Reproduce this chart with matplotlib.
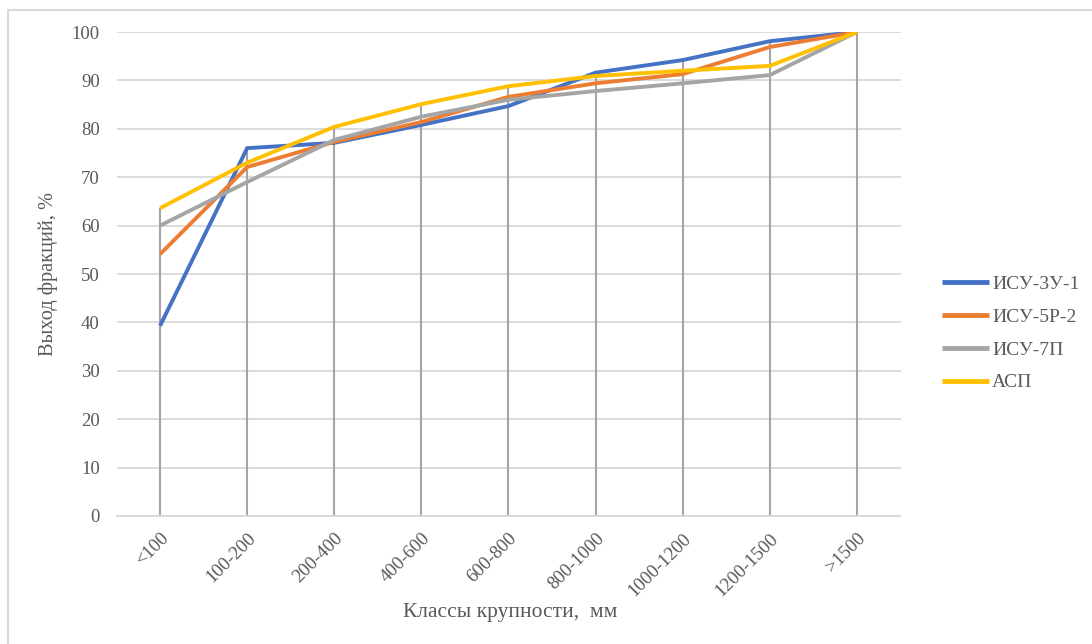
import matplotlib
matplotlib.use("Agg")
import matplotlib.pyplot as plt
from matplotlib.patches import Rectangle
import numpy as np

categories = ["<100", "100-200", "200-400", "400-600", "600-800",
              "800-1000", "1000-1200", "1200-1500", ">1500"]
isu_3u_1 = [39.3, 76.0, 77.1, 80.8, 84.7, 91.6, 94.2, 98.1, 100.0]
isu_5r_2 = [54.1, 72.1, 77.3, 81.4, 86.6, 89.4, 91.3, 96.9, 100.0]
isu_7p = [60.0, 69.0, 77.7, 82.5, 86.0, 87.8, 89.4, 91.1, 100.0]
asp = [63.6, 73.0, 80.4, 85.1, 88.8, 90.9, 92.0, 93.0, 100.0]
series_names = ["ИСУ-3У-1", "ИСУ-5Р-2", "ИСУ-7П", "АСП"]
y_ticks = list(range(0, 101, 10))

colors = ["#4472C4", "#ED7D31", "#A5A5A5", "#FFC000"]
text_color = "#595959"
font = ["Liberation Serif", "DejaVu Serif"]

plt.rcParams["font.family"] = font

W, H = 1092, 644
fig = plt.figure(figsize=(W / 100, H / 100), dpi=100)

# chart frame (open at the right and bottom edges of the image)
fig.patches.append(Rectangle((8 / W, -0.1), 1.2, (H - 10) / H + 0.1,
                             transform=fig.transFigure, fill=False,
                             edgecolor="#D9D9D9", linewidth=1.5, zorder=0))

ax = fig.add_axes([116.5 / W, (H - 516) / H, (900.5 - 116.5) / W, (516 - 32) / H])
x = np.arange(len(categories))
all_series = [isu_3u_1, isu_5r_2, isu_7p, asp]

ax.set_xlim(-0.5, len(categories) - 0.5)
ax.set_ylim(0, 100)
ax.set_yticks(y_ticks)
ax.yaxis.grid(True, color="#D9D9D9", linewidth=1.3)
ax.set_axisbelow(True)

# drop lines from the top value of each class down to the axis
tops = np.max(np.array(all_series), axis=0)
ax.vlines(x, 0, tops, color="#A5A5A5", linewidth=1.5, zorder=2)

for vals, name, c in zip(all_series, series_names, colors):
    ax.plot(x, vals, color=c, linewidth=2.8, label=name, zorder=3,
            solid_capstyle="butt", solid_joinstyle="miter")

for side in ["top", "right", "left"]:
    ax.spines[side].set_visible(False)
ax.spines["bottom"].set_color("#D9D9D9")
ax.spines["bottom"].set_linewidth(1.3)

ax.set_xticks(x)
ax.set_xticklabels(categories, rotation=45, ha="right", rotation_mode="anchor",
                   fontsize=13.5, color=text_color)
ax.tick_params(axis="x", length=0, pad=10)
ax.tick_params(axis="y", length=0, pad=12, labelsize=13.5, labelcolor=text_color)

ax.set_xlabel("Классы крупности,  мм", fontsize=15.5, color=text_color)
ax.xaxis.set_label_coords((510 - 116.5) / (900.5 - 116.5), -(603 - 516) / (516 - 32))
ax.set_ylabel("Выход фракций, %", fontsize=14.7, color=text_color)
ax.yaxis.set_label_coords(-(116.5 - 58) / (900.5 - 116.5), 0.5)

leg = ax.legend(loc="upper left", bbox_to_anchor=(924 / W, (H - 258) / H),
                bbox_transform=fig.transFigure, frameon=False,
                fontsize=14, handlelength=2.45, handletextpad=0.15,
                labelspacing=0.78, labelcolor=text_color)
for line in leg.get_lines():
    line.set_linewidth(3.5)

fig.savefig("out.png", dpi=100, facecolor="white")
